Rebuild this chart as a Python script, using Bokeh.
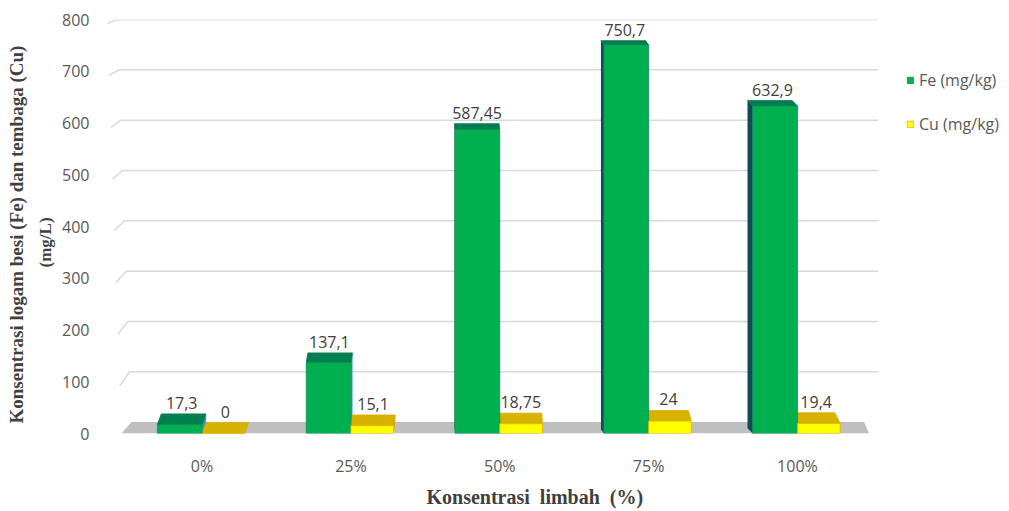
from bokeh.plotting import figure
from bokeh.models import Range1d, FixedTicker, Legend, LegendItem, Title, ColumnDataSource
from bokeh.embed import file_html
from bokeh.resources import INLINE
from bokeh.core.properties import value

# --- data -------------------------------------------------------------
categories = ["0%", "25%", "50%", "75%", "100%"]
fe_values = [17.3, 137.1, 587.45, 750.7, 632.9]
cu_values = [0, 15.1, 18.75, 24, 19.4]
series_names = ["Fe (mg/kg)", "Cu (mg/kg)"]
y_ticks = [0, 100, 200, 300, 400, 500, 600, 700, 800]

# --- geometry / style ---------------------------------------------------
W, H = 1009, 511
FRAME_L, FRAME_R, FRAME_T, FRAME_B = 98, 1009, 19, 440
X0_PX, STEP_PX = 198.0, 149.5          # pixel of category 0 boundary, px per category
X_START = (FRAME_L - X0_PX) / STEP_PX
X_END = (FRAME_R - X0_PX) / STEP_PX
Y_MAX = 800
PX_PER_Y = (FRAME_B - FRAME_T) / Y_MAX
FE_W, CU_W = 0.30, 0.287
FLOOR_DEPTH = 22                        # back edge of the floor, in value units
WALL_RIGHT_PX = 877

def px(x_pixel):
    return (x_pixel - X0_PX) / STEP_PX

def fmt(v):
    return f"{v:g}".replace(".", ",")

def depth(i, v):
    """Horizontal / vertical offset of a bar's back face (data units)."""
    dx_px = -2.3 * (i - 1.7)
    dy_px = 4.0 + 7.0 * (1 - v / Y_MAX)
    return dx_px / STEP_PX, dy_px / PX_PER_Y

def faces(values, left_off, width):
    fx, fy, sx, sy, tx, ty = [], [], [], [], [], []
    lx, ly = [], []
    for i, v in enumerate(values):
        x0 = i + left_off
        x1 = x0 + width
        dx, dy = depth(i, v)
        xs = x1 if dx > 0 else x0
        sx.append([xs, xs, xs + dx, xs + dx]); sy.append([0, v, v + dy, dy])
        tx.append([x0, x1, x1 + dx, x0 + dx]); ty.append([v, v, v + dy, v + dy])
        fx.append((x0, x1)); fy.append(v)
        lx.append((x0 + x1) / 2 + dx / 2); ly.append(v + dy)
    return fx, fy, sx, sy, tx, ty, lx, ly

p = figure(width=W, height=H, output_backend="svg", toolbar_location=None,
           x_range=Range1d(X_START, X_END), y_range=Range1d(0, Y_MAX),
           min_border_left=FRAME_L, min_border_right=W - FRAME_R,
           min_border_top=FRAME_T, min_border_bottom=H - FRAME_B)
p.outline_line_color = None
p.background_fill_color = "white"
p.border_fill_color = "white"
p.xgrid.visible = False
p.ygrid.visible = False

# back-wall gridlines with a short perspective slant on the left
gx, gy = [], []
for t in y_ticks[1:]:
    back = FLOOR_DEPTH + t * (Y_MAX - FLOOR_DEPTH) / Y_MAX
    xf = px(103 + 14 * (1 - t / Y_MAX))
    xb = xf + 10 / STEP_PX
    gx.append([xf, xb, px(WALL_RIGHT_PX)])
    gy.append([t - 8, back, back])
p.multi_line(gx, gy, line_color="#D9D9D9", line_width=1.5)

# floor
p.patch([px(117), px(868), px(863), px(127)], [0, 0, FLOOR_DEPTH, FLOOR_DEPTH],
        fill_color="#BFBFBF", line_color=None)

fe = faces(fe_values, -FE_W, FE_W)
cu = faces(cu_values, 0.0, CU_W)

side_fe = ["#2A9BB5" if depth(i, v)[0] > 0 else "#0E4D55" for i, v in enumerate(fe_values)]
p.patches(fe[2], fe[3], fill_color=side_fe, line_color=None)
p.patches(cu[2], cu[3], fill_color="#C9A000", line_color=None)
p.patches(fe[4], fe[5], fill_color="#00804E", line_color="#0B6E55", line_width=0.8)
p.patches(cu[4], cu[5], fill_color="#D6B300", line_color="#E0A800", line_width=0.8)

fe_src = ColumnDataSource(dict(left=[a for a, b in fe[0]], right=[b for a, b in fe[0]],
                               top=fe[1], bottom=[0] * len(fe_values)))
cu_src = ColumnDataSource(dict(left=[a for a, b in cu[0]], right=[b for a, b in cu[0]],
                               top=cu[1], bottom=[0] * len(cu_values)))
r_fe = p.quad(left="left", right="right", top="top", bottom="bottom", source=fe_src,
              fill_color="#00B050", line_color="#0A8F5A", line_width=0.8)
r_cu = p.quad(left="left", right="right", top="top", bottom="bottom", source=cu_src,
              fill_color="#FFFF00", line_color="#E8B000", line_width=0.8)

# data labels
lab_style = dict(text_font=value("Open Sans"), text_font_size="16px", text_color="#404040",
                 text_align="center", text_baseline="bottom", y_offset=-5)
p.text(fe[6], fe[7], text=[fmt(v) for v in fe_values], **lab_style)
p.text(cu[6], cu[7], text=[fmt(v) for v in cu_values], **lab_style)

# axes
p.xaxis.ticker = FixedTicker(ticks=list(range(len(categories))))
p.xaxis.major_label_overrides = {i: c for i, c in enumerate(categories)}
p.yaxis.ticker = FixedTicker(ticks=y_ticks)
for ax in (p.xaxis[0], p.yaxis[0]):
    ax.axis_line_color = None
    ax.major_tick_line_color = None
    ax.minor_tick_line_color = None
    ax.major_label_text_font = "Open Sans"
    ax.major_label_text_font_size = "16px"
    ax.major_label_text_color = "#595959"
p.xaxis.major_label_standoff = 15
p.yaxis.major_label_standoff = 7

title_style = dict(text_font="Liberation Serif", text_font_style="bold", text_color="#404040")

# axis titles, set as side titles so they can be positioned along the edge
p.add_layout(Title(text="(mg/L)", align="left", offset=FRAME_B - 274,
                   text_font_size="17px", standoff=9, **title_style), "left")
p.add_layout(Title(text="Konsentrasi logam besi (Fe) dan tembaga (Cu)", align="left",
                   offset=FRAME_B - 430, text_font_size="19px", standoff=6, **title_style), "left")
p.add_layout(Title(text="Konsentrasi\u00a0\u00a0limbah\u00a0\u00a0(%)", align="left",
                   offset=422 - FRAME_L, text_font_size="20px", standoff=8, **title_style), "below")

# legend, placed to the right of the back wall
legend = Legend(items=[LegendItem(label=series_names[0], renderers=[r_fe]),
                       LegendItem(label=series_names[1], renderers=[r_cu])],
                location=(902 - FRAME_L, FRAME_B - 142),
                glyph_width=8, glyph_height=8, label_height=20, spacing=22,
                padding=0, margin=0, label_standoff=5,
                label_text_font="Open Sans", label_text_font_size="16px",
                label_text_color="#595959", border_line_color=None,
                background_fill_alpha=0)
p.add_layout(legend, "center")

open("out.html", "w").write(file_html(p, INLINE))
